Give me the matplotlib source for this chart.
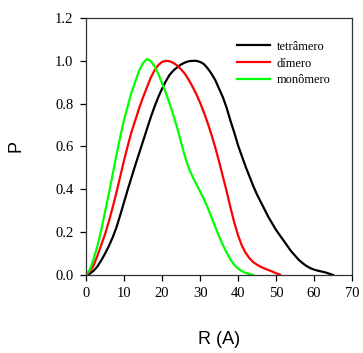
import matplotlib
matplotlib.use('Agg')
import matplotlib.pyplot as plt

# curvas (R em Angstrom, P normalizado), passo de 1 A
rTetramero = list(range(0, 66))
pTetramero = [0, 0.006, 0.02, 0.04, 0.068, 0.1, 0.135, 0.175, 0.222, 0.28,
              0.34, 0.4, 0.458, 0.515, 0.57, 0.625, 0.68, 0.735, 0.785, 0.83,
              0.87, 0.905, 0.935, 0.955, 0.97, 0.983, 0.992, 0.998, 1.0, 1.0,
              0.995, 0.985, 0.965, 0.94, 0.91, 0.87, 0.83, 0.78, 0.72, 0.665,
              0.605, 0.555, 0.505, 0.46, 0.415, 0.375, 0.34, 0.305, 0.27, 0.24,
              0.21, 0.185, 0.16, 0.135, 0.11, 0.09, 0.07, 0.055, 0.042, 0.032,
              0.025, 0.02, 0.016, 0.012, 0.006, 0.0]

rDimero = list(range(0, 52))
pDimero = [0, 0.015, 0.045, 0.09, 0.14, 0.19, 0.25, 0.315, 0.385, 0.46,
           0.535, 0.605, 0.67, 0.725, 0.78, 0.83, 0.875, 0.92, 0.955, 0.98,
           0.995, 1.0, 0.998, 0.99, 0.978, 0.96, 0.94, 0.912, 0.88, 0.845,
           0.805, 0.76, 0.71, 0.655, 0.595, 0.53, 0.46, 0.39, 0.315, 0.245,
           0.185, 0.137, 0.103, 0.078, 0.06, 0.048, 0.038, 0.03, 0.023, 0.016,
           0.008, 0.002]

rMonomero = list(range(0, 45))
pMonomero = [0, 0.025, 0.075, 0.135, 0.21, 0.295, 0.38, 0.47, 0.56, 0.645,
             0.725, 0.79, 0.855, 0.905, 0.955, 0.99, 1.008, 1.0, 0.975, 0.94,
             0.895, 0.85, 0.8, 0.745, 0.685, 0.62, 0.555, 0.5, 0.46, 0.425,
             0.39, 0.355, 0.315, 0.27, 0.225, 0.18, 0.14, 0.105, 0.072, 0.047,
             0.03, 0.018, 0.01, 0.004, 0.0]

xTicks = [0, 10, 20, 30, 40, 50, 60, 70]
yTicks = [0.0, 0.2, 0.4, 0.6, 0.8, 1.0, 1.2]

fig = plt.figure(figsize=(3.63, 3.53), dpi=100)
ax = fig.add_axes([0.237, 0.221, 0.733, 0.728])

ax.plot(rTetramero, pTetramero, color='black', lw=1.6, label='tetrâmero')
ax.plot(rDimero, pDimero, color='#ff0000', lw=1.6, label='dímero')
ax.plot(rMonomero, pMonomero, color='#00ff00', lw=1.6, label='monômero')

ax.set_xlim(0, 70)
ax.set_ylim(0, 1.2)
ax.set_xticks(xTicks)
ax.set_yticks(yTicks)
ax.set_yticklabels([f'{v:.1f}' for v in yTicks])
ax.tick_params(direction='out', length=4, width=0.9, labelsize=10.5, pad=5)
for lab in ax.get_xticklabels() + ax.get_yticklabels():
    lab.set_family('Liberation Serif')
for s in ax.spines.values():
    s.set_linewidth(0.9)
    s.set_color('#333333')

ax.set_xlabel('R (A)', family='Liberation Sans', fontsize=13, labelpad=22)
ax.set_ylabel('P', family='Liberation Sans', fontsize=13, labelpad=22)

ax.legend(loc='upper left', frameon=False, prop={'family': 'Liberation Serif', 'size': 9},
          handlelength=2.64, handletextpad=0.56, labelspacing=0.38,
          bbox_to_anchor=(0.524, 0.955))

plt.savefig('out.png', dpi=100)
plt.close()
